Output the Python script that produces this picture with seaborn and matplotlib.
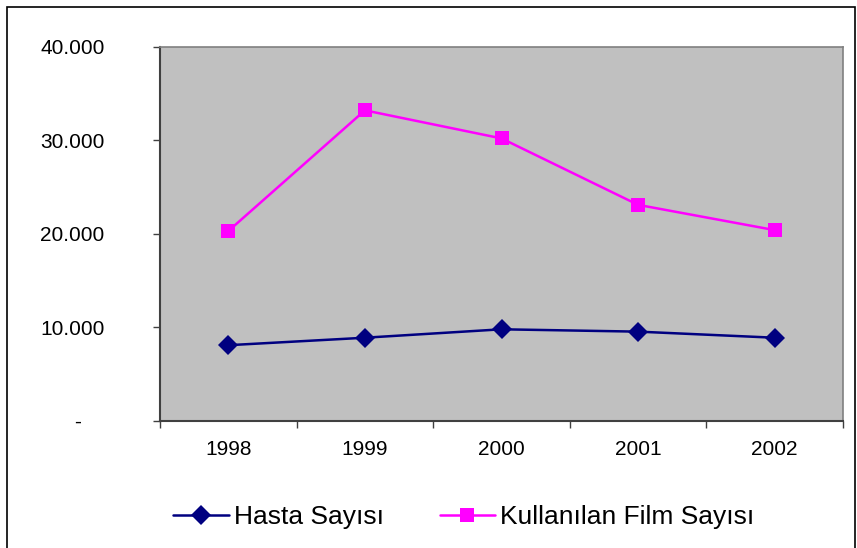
import matplotlib
matplotlib.use("Agg")
import matplotlib.pyplot as plt
import seaborn as sns
import pandas as pd
from matplotlib.patches import Rectangle
from matplotlib.ticker import FuncFormatter

years = ["1998", "1999", "2000", "2001", "2002"]
hasta = [8100, 8900, 9800, 9550, 8900]
film = [20300, 33200, 30200, 23100, 20400]
series_names = ["Hasta Sayısı", "Kullanılan Film Sayısı"]
y_ticks = [0, 10000, 20000, 30000, 40000]

sns.set_theme(style="white")
plt.rcParams["font.family"] = ["Liberation Sans", "DejaVu Sans"]
plt.rcParams["text.color"] = "black"
plt.rcParams["xtick.color"] = "black"
plt.rcParams["ytick.color"] = "black"

df = pd.DataFrame({
    "pos": list(range(len(years))) * 2,
    "value": hasta + film,
    "series": [series_names[0]] * len(years) + [series_names[1]] * len(years),
})

fig = plt.figure(figsize=(8.57, 5.48), dpi=100)
ax = fig.add_axes([160 / 857, 1 - 421 / 548, (843 - 160) / 857, (421 - 46.7) / 548])
ax.set_facecolor("#C0C0C0")

sns.lineplot(data=df, x="pos", y="value", hue="series", style="series",
             palette={series_names[0]: "#000080", series_names[1]: "#FF00FF"},
             markers={series_names[0]: "D", series_names[1]: "s"},
             dashes=False, markersize=10, markeredgewidth=0, linewidth=1.8,
             ax=ax, legend=True)

ax.set_xlim(-0.5, len(years) - 0.5)
ax.set_ylim(0, 40000)
ax.set_xlabel("")
ax.set_ylabel("")

ax.set_xticks([i - 0.5 for i in range(len(years) + 1)])
ax.set_xticklabels([])
ax.set_xticks(list(range(len(years))), minor=True)
ax.set_xticklabels(years, minor=True)
ax.tick_params(axis="x", which="major", direction="out", length=5, width=1, color="#404040", bottom=True)
ax.tick_params(axis="x", which="minor", length=0, pad=14, labelsize=15, labelcolor="black")

ax.set_yticks(y_ticks)
ax.yaxis.set_major_formatter(FuncFormatter(
    lambda v, p: "-    " if v == 0 else f"{int(v):,}".replace(",", ".")))
ax.tick_params(axis="y", direction="out", length=5, width=1, color="#404040", left=True,
               pad=35, labelsize=15, labelcolor="black")

for s in ["left", "bottom"]:
    ax.spines[s].set_color("#404040")
    ax.spines[s].set_linewidth(1.5)
for s in ["top", "right"]:
    ax.spines[s].set_color("#808080")
    ax.spines[s].set_linewidth(1.2)

handles, labels = ax.get_legend_handles_labels()
ax.get_legend().remove()
leg = fig.legend(handles, labels, loc="center", bbox_to_anchor=(464 / 857, 1 - 517 / 548),
                 ncol=2, frameon=False, fontsize=19, handlelength=2.1, handletextpad=0.2,
                 columnspacing=2.1)
for t in leg.get_texts():
    t.set_color("black")

fig.patches.append(Rectangle((7 / 857, -0.1), (855 - 7) / 857, 1.1 - 7 / 548,
                             transform=fig.transFigure, fill=False, edgecolor="black",
                             linewidth=1.2, clip_on=False))

fig.savefig("out.png", dpi=100)
